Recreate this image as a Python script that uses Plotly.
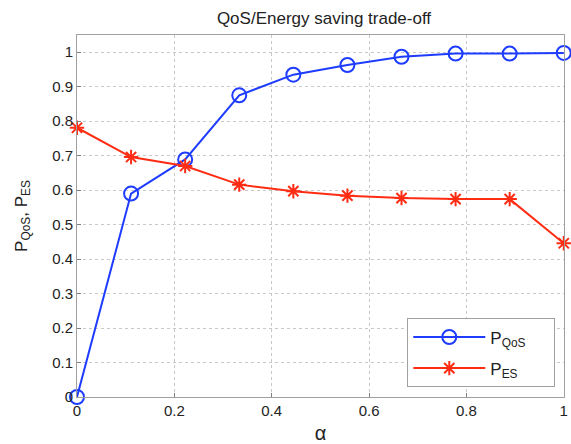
import plotly.graph_objects as go

# alpha sweep (10 evenly spaced values from 0 to 1)
alpha = [0, 1/9, 2/9, 3/9, 4/9, 5/9, 6/9, 7/9, 8/9, 1]
p_qos = [0.0, 0.590, 0.689, 0.875, 0.935, 0.963, 0.987, 0.996, 0.996, 0.998]
p_es = [0.781, 0.696, 0.670, 0.616, 0.597, 0.584, 0.577, 0.574, 0.574, 0.446]

x_ticks = [0, 0.2, 0.4, 0.6, 0.8, 1]
y_ticks = [0, 0.1, 0.2, 0.3, 0.4, 0.5, 0.6, 0.7, 0.8, 0.9, 1]

BLUE = "#1e3cff"
RED = "#ff2c14"
FONT = "Liberation Sans, Arial, sans-serif"

# plot-area geometry in pixels
W, H = 571, 444
L, R, T, B = 77, 3, 35, 45
PW, PH = W - L - R, H - T - B

fig = go.Figure()
fig.add_trace(go.Scatter(
    x=alpha, y=p_qos, mode="lines+markers",
    name="P<sub>QoS</sub>" + "&nbsp;" * 5,
    legendgroup="qos",
    line=dict(color=BLUE, width=2),
    marker=dict(symbol="circle-open", size=14, color=BLUE, line=dict(width=2)),
    cliponaxis=False,
))
fig.add_trace(go.Scatter(
    x=alpha, y=p_es, mode="lines+markers", name="P<sub>ES</sub>",
    legendgroup="es",
    line=dict(color=RED, width=2),
    marker=dict(symbol="asterisk-open", size=12, color=RED, line=dict(width=2, color=RED)),
    cliponaxis=False,
))

axis_common = dict(
    showgrid=True, gridcolor="#c8c8c8", griddash="dot", gridwidth=1,
    showline=True, linecolor="#a0a0a0", linewidth=1, mirror=True,
    ticks="inside", ticklen=4, tickcolor="#808080",
    zeroline=False, tickfont=dict(family=FONT, size=15, color="#222222"),
)

fig.update_layout(
    width=W, height=H,
    margin=dict(l=L, r=R, t=T, b=B),
    paper_bgcolor="white", plot_bgcolor="white",
    font=dict(family=FONT, color="#222222"),
    title=dict(text="QoS/Energy saving trade-off", x=324 / W, xanchor="center",
               y=1 - 18 / H, yanchor="middle", font=dict(size=17, family=FONT)),
    xaxis=dict(range=[0, 1.0005], tickvals=x_ticks, ticktext=[f"{v:g}" for v in x_ticks],
               title=dict(text="α", font=dict(size=20, family=FONT), standoff=8),
               **axis_common),
    yaxis=dict(range=[0, 1.05], tickvals=y_ticks, ticktext=[f"{v:g}" for v in y_ticks],
               title=dict(text="P<sub>QoS</sub>, P<sub>ES</sub>", font=dict(size=17, family=FONT),
                          standoff=20),
               **axis_common),
    legend=dict(
        x=(410 - L) / PW, xanchor="left", y=(H - B - 320) / PH, yanchor="top",
        bgcolor="white", bordercolor="#a0a0a0", borderwidth=1,
        font=dict(size=17, family=FONT), tracegroupgap=6, traceorder="grouped",
        itemwidth=72,
    ),
    showlegend=True,
)

fig.write_html("out.html")
